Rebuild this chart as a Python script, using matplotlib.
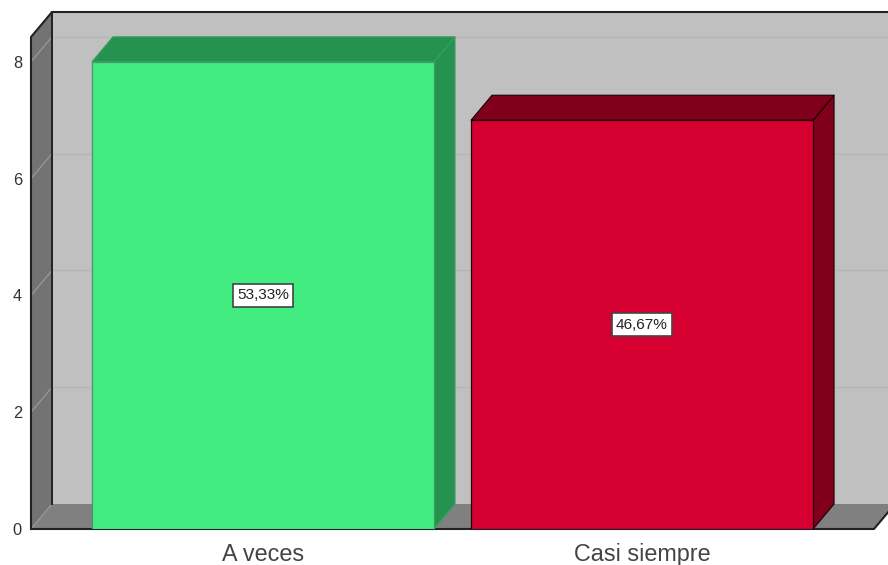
import matplotlib
matplotlib.use('Agg')
import matplotlib.pyplot as plt
from matplotlib.patches import Polygon

categories = ['A veces', 'Casi siempre']
counts = [8, 7]
pct_labels = ['53,33%', '46,67%']
y_ticks = [0, 2, 4, 6, 8]

face_colors = ['#43EC80', '#D5002F']
side_colors = ['#26924F', '#80001C']
edge_colors = ['#3E9E62', '#1A0006']

W, H = 888, 565
plt.rcParams['font.family'] = ['Liberation Sans', 'DejaVu Sans']

fig = plt.figure(figsize=(W / 100, H / 100), dpi=100)
# front plane of the 3d box, in pixels
left, right, top, bottom = 31, 874, 37, 529
ax = fig.add_axes([left / W, 1 - bottom / H, (right - left) / W, (bottom - top) / H])
ax.set_xlim(-0.612, 1.612)
ax.set_ylim(0, 8.425)

# depth offset of the box, in data units
px_x = 379.0
px_y = 58.4
dx = 21 / px_x
dy = 25 / px_y
bar_w = 342 / px_x
x0, x1 = ax.get_xlim()
y1 = ax.get_ylim()[1]


def poly(pts, fc, ec='none', lw=0.0, z=1):
    ax.add_patch(Polygon(pts, closed=True, facecolor=fc, edgecolor=ec,
                         linewidth=lw, zorder=z, clip_on=False, joinstyle='round'))


# walls and floor
poly([(x0 + dx, dy), (x1 + dx, dy), (x1 + dx, y1 + dy), (x0 + dx, y1 + dy)], '#C0C0C0')
poly([(x0, 0), (x0 + dx, dy), (x0 + dx, y1 + dy), (x0, y1)], '#737373')
poly([(x0, 0), (x1, 0), (x1 + dx, dy), (x0 + dx, dy)], '#808080')

# grid on the wall, and the same line running down the side wall
for t in y_ticks[1:]:
    ax.plot([x0 + dx, x1 + dx], [t + dy, t + dy], color='#B6B6B6', lw=1.0, zorder=2, clip_on=False)
for t in y_ticks:
    ax.plot([x0, x0 + dx], [t, t + dy], color='#969696', lw=1.0, zorder=2, clip_on=False)

# outline of the box
ax.plot([x0, x0, x0 + dx, x1 + dx], [0, y1, y1 + dy, y1 + dy], color='#222222', lw=1.5, zorder=3, clip_on=False)
ax.plot([x0 + dx, x0 + dx], [dy, y1 + dy], color='#222222', lw=1.4, zorder=3, clip_on=False)
ax.plot([x0, x1, x1 + dx], [0, 0, dy], color='#222222', lw=1.5, zorder=3, clip_on=False)

# bars
for i, v in enumerate(counts):
    a = i - bar_w / 2
    b = i + bar_w / 2
    poly([(b, 0), (b + dx, dy), (b + dx, v + dy), (b, v)], side_colors[i], edge_colors[i], 0.8, 4)
    poly([(a, v), (b, v), (b + dx, v + dy), (a + dx, v + dy)], side_colors[i], edge_colors[i], 0.8, 4)
    ax.bar(i, v, width=bar_w, color=face_colors[i], edgecolor=edge_colors[i], linewidth=0.9, zorder=5)
    ax.text(i, v / 2, pct_labels[i], ha='center', va='center', fontsize=11.1, color='#222222', zorder=6,
            bbox=dict(boxstyle='square,pad=0.27', facecolor='white', edgecolor='#444444', linewidth=1.2))

for s in ax.spines.values():
    s.set_visible(False)
ax.patch.set_visible(False)
ax.set_xticks(range(len(categories)))
ax.set_xticklabels(categories, fontsize=16.8, color='#444444')
ax.set_yticks(y_ticks)
ax.tick_params(axis='x', length=0, pad=10)
ax.tick_params(axis='y', length=0, pad=6.5, labelsize=11.8, labelcolor='#333333')

fig.savefig('out.png', dpi=100, facecolor='white')
